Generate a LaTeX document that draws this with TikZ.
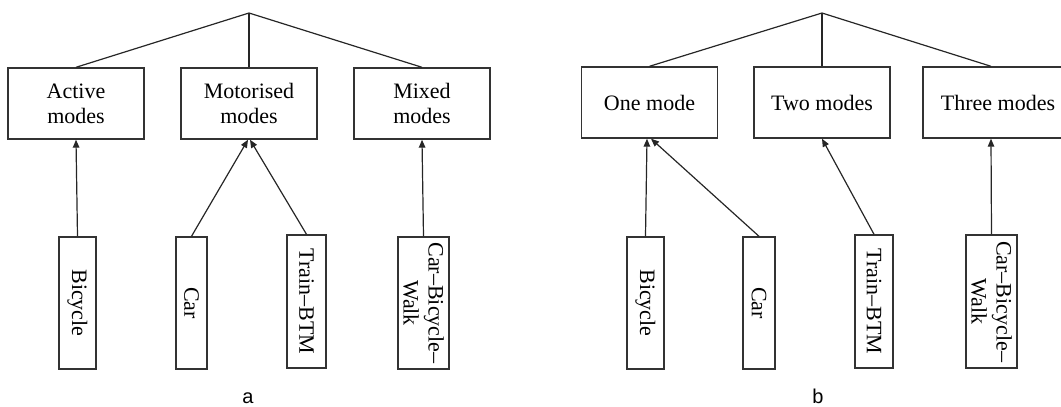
\documentclass[tikz,border=0pt]{standalone}
\usepackage{fontspec}
\setmainfont{Liberation Serif}
\newfontfamily\labelfont{Liberation Sans}
\usetikzlibrary{arrows.meta}

\begin{document}
\begin{tikzpicture}[x=1pt,y=-1pt,
		line width=1.2pt, draw=black!85,
		>={Triangle[length=8pt,width=6.5pt]},
		catbox/.style={draw=black!80, line width=1.4pt, minimum width=136pt, minimum height=71pt,
			inner sep=0pt, align=center, font=\fontsize{22}{25}\selectfont},
		modebox/.style={draw=black!80, line width=1.4pt, rotate=-90, minimum width=132pt,
			inner sep=0pt, align=center, font=\fontsize{22}{25}\selectfont},
		sublabel/.style={anchor=base, inner sep=0pt, font=\labelfont\fontsize{20}{24}\selectfont}]
	\useasboundingbox (0,0) rectangle (1061,407);

	% panel a
	\coordinate (a0) at (249,13);
	\node[catbox] (a1) at (76,103.5) {Active\\modes};
	\node[catbox] (a2) at (249,103.5) {Motorised\\modes};
	\node[catbox] (a3) at (422,103.5) {Mixed\\modes};
	\node[modebox, minimum height=37pt] (a11) at (77.5,303) {Bicycle};
	\node[modebox, minimum height=31pt] (a12) at (191.5,303) {Car};
	\node[modebox, minimum height=39pt, minimum width=133pt] (a13) at (306.5,301.5) {Train--BTM};
	\node[modebox, minimum height=51pt] (a14) at (423.5,303) {Car--Bicycle--\\Walk};
	\node[sublabel] (la) at (248,403.5) {a};

	\draw (a0) -- (a1.north);
	\draw (a0) -- (a2.north);
	\draw (a0) -- (a3.north);
	\draw[->] (a11.west) -- (a1.south);
	\draw[->] (a12.west) -- ([xshift=-1pt]a2.south);
	\draw[->] (a13.west) -- ([xshift=1pt]a2.south);
	\draw[->] (a14.west) -- (a3.south);

	% panel b
	\coordinate (b0) at (822,13);
	\node[catbox] (b1) at (649.5,102.5) {One mode};
	\node[catbox] (b2) at (822,102.5) {Two modes};
	\node[catbox, minimum width=150pt] (b3) at (998,102.5) {Three modes};
	\node[modebox, minimum height=37pt] (b11) at (645.5,303) {Bicycle};
	\node[modebox, minimum height=32pt] (b12) at (759,303) {Car};
	\node[modebox, minimum height=38pt, minimum width=133pt] (b13) at (874,301.5) {Train--BTM};
	\node[modebox, minimum height=51pt, minimum width=133pt] (b14) at (991.5,301.5) {Car--Bicycle--\\Walk};
	\node[sublabel] (lb) at (818,403.5) {b};

	\draw (b0) -- (b1.north);
	\draw (b0) -- (b2.north);
	\draw (b0) -- ([xshift=-7pt]b3.north);
	\draw[->] (b11.west) -- ([xshift=-2.5pt]b1.south);
	\draw[->] (b12.west) -- ([xshift=1.5pt]b1.south);
	\draw[->] (b13.west) -- (b2.south);
	\draw[->] (b14.west) -- ([xshift=-7pt]b3.south);
\end{tikzpicture}
\end{document}
